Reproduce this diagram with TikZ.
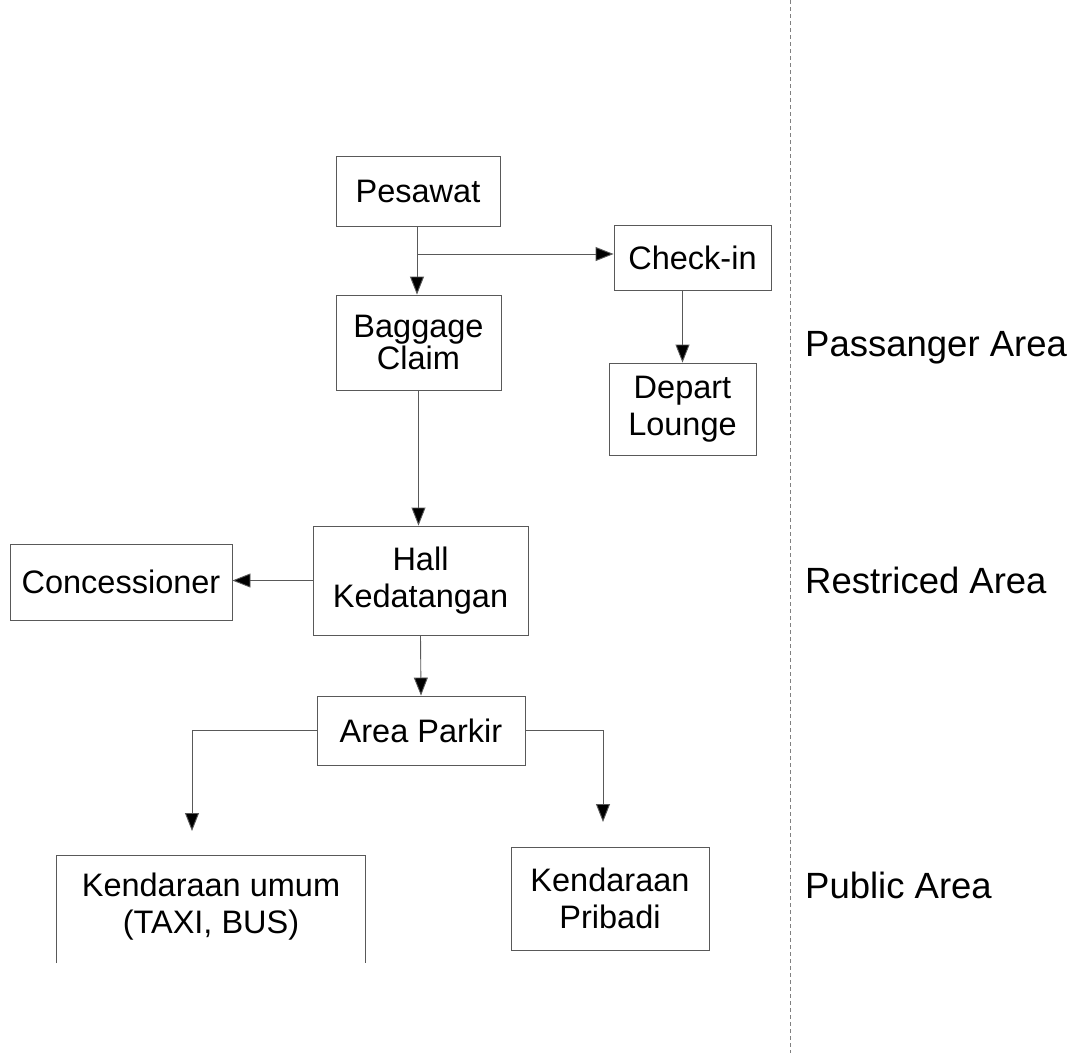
\documentclass[tikz,border=0pt]{standalone}
\usepackage{fontspec}
\setmainfont{Liberation Sans}
\usetikzlibrary{arrows.meta}
\tikzset{
  boxtxt/.style={font=\fontsize{32.5}{37.5}\selectfont, align=center, inner sep=0pt},
  stepbox/.style={boxtxt, draw=black!65, line width=0.9pt},
  openbox/.style={boxtxt},
  conn/.style={draw=black!65, line width=0.9pt, -{Triangle[length=18pt,width=14pt,fill=black]}},
  plainconn/.style={draw=black!65, line width=0.9pt},
  arealabel/.style={font=\fontsize{36.5}{40}\selectfont, anchor=west, inner sep=0pt},
  divider/.style={draw=black!50, line width=0.8pt, dash pattern=on 4pt off 3pt}
}
\begin{document}
\begin{tikzpicture}[x=1pt,y=-1pt]
\useasboundingbox[fill=white] (0,0) rectangle (1080,1053);

% boxes
\node[stepbox, minimum width=164pt, minimum height=70pt] (pes) at (418,191) {Pesawat};
\node[stepbox, minimum width=157pt, minimum height=65pt] (chk) at (692.5,257.5) {Check-in};
\node[stepbox, minimum width=165pt, minimum height=95pt, font=\fontsize{32.5}{32}\selectfont] (bag) at (418.5,342.5) {Baggage\\Claim};
\node[stepbox, minimum width=147pt, minimum height=92pt] (dep) at (682.5,409) {Depart\\Lounge};
\node[stepbox, minimum width=215pt, minimum height=109pt] (hall) at (420.5,580.5) {Hall\\Kedatangan};
\node[stepbox, minimum width=222pt, minimum height=76pt] (con) at (121,582) {Concessioner};
\node[stepbox, minimum width=208pt, minimum height=69pt] (park) at (421,730.5) {Area Parkir};
\node[openbox, minimum width=308pt, minimum height=107pt, yshift=-3pt] (umum) at (211,903.5) {Kendaraan umum\\(TAXI, BUS)};
\node[stepbox, minimum width=198pt, minimum height=103pt] (pri) at (610,898.5) {Kendaraan\\Pribadi};
\draw[plainconn] ([yshift=-3pt]umum.south west) -- ([yshift=-3pt]umum.north west) -- ([yshift=-3pt]umum.north east) -- ([yshift=-3pt]umum.south east);

% connectors
\coordinate (split) at (417,254);
\coordinate (uarr) at (192,831);
\coordinate (parr) at (603,822);
\draw[conn] (pes.south -| split) -- (bag.north -| split);
\draw[conn] (split) -- (chk.west |- split);
\draw[conn] (dep.north |- chk.south) -- (dep.north);
\draw[conn] (bag.south) -- (hall.north -| bag.south);
\draw[conn] (hall.west) -- (con.east |- hall.west);
\draw[conn] (hall.south) -- (park.north);
\draw[conn] (park.west) -| (uarr);
\draw[conn] (park.east) -| (parr);

% divider
\coordinate (dtop) at (790,0);
\coordinate (dbot) at (790,1053);
\draw[divider] (dtop) -- (dbot);

% area labels
\node[arealabel] (lpass) at (805,348) {Passanger Area};
\node[arealabel] (lrest) at (805,580) {Restriced Area};
\node[arealabel] (lpub) at (805,885) {Public Area};
\end{tikzpicture}
\end{document}
